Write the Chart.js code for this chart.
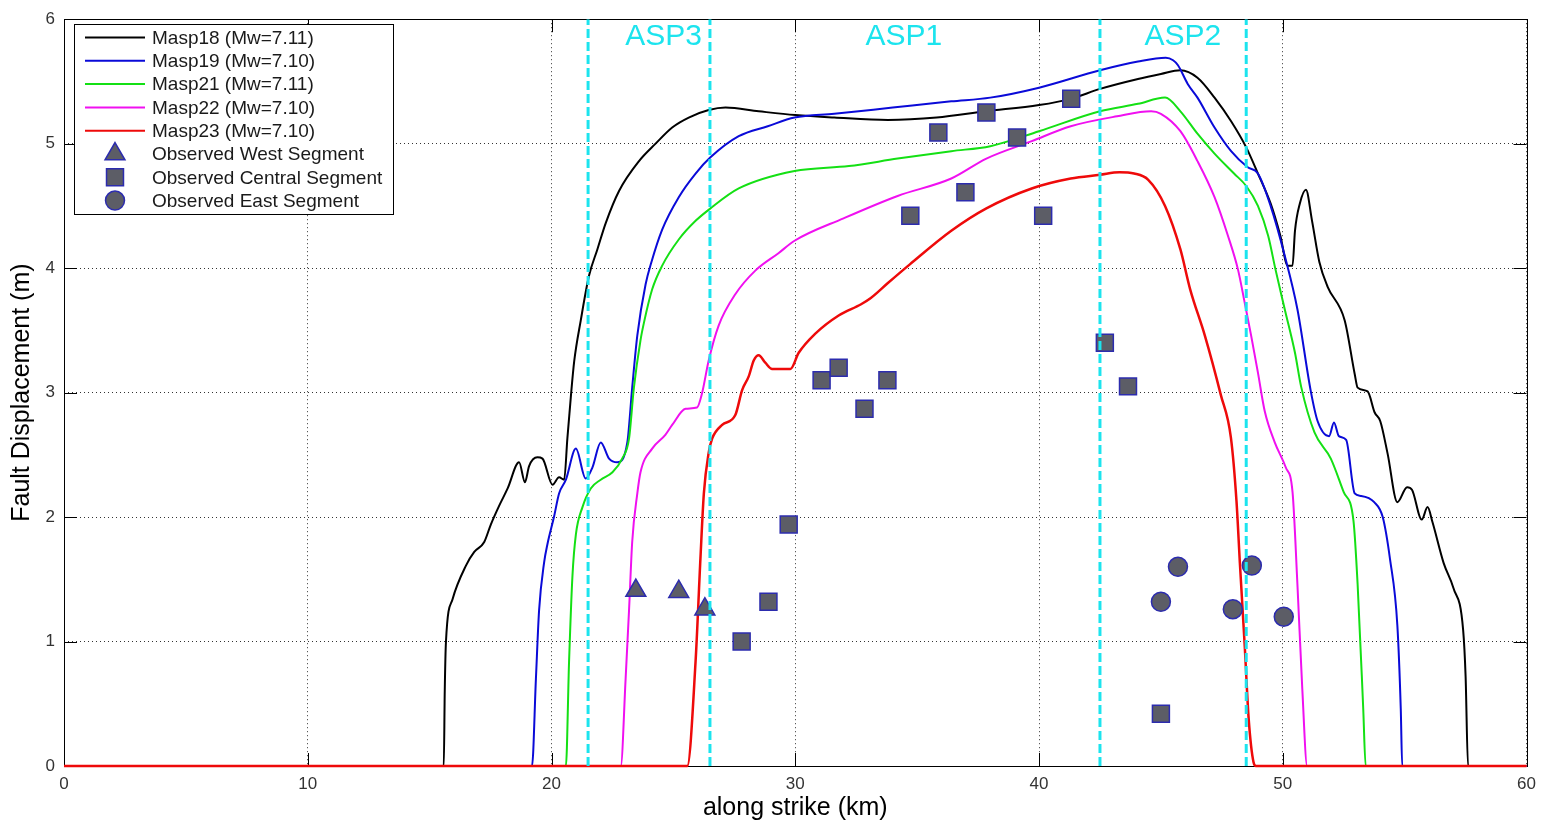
<!DOCTYPE html>
<html>
<head>
<meta charset="utf-8">
<script src="https://cdn.jsdelivr.net/npm/chart.js@4.4.0/dist/chart.umd.min.js"></script>
<style>
  html, body { margin: 0; padding: 0; background: #fff; }
  #wrap { width: 1544px; height: 823px; }
</style>
</head>
<body>
<div id="wrap"><canvas id="chart" width="1544" height="823"></canvas></div>
<script>
// simulated fault displacement along strike (km / m)
const masp18X = [0, 15.58, 15.62, 15.67, 15.94, 16.49, 16.83, 17.24, 17.51, 17.85, 18.2, 18.67, 18.91, 19.08, 19.42, 19.63, 20.04, 20.31, 20.52, 20.65, 20.79, 20.93, 21.2, 21.54, 21.88, 22.22, 22.77, 23.59, 24.27, 24.95, 25.63, 26.45, 27.14, 28.5, 30.0, 31.6, 33.8, 35.8, 37.8, 40.0, 41.3, 42.5, 44.06, 45.0, 45.8, 46.5, 47.2, 47.88, 48.5, 48.98, 49.5, 49.9, 50.2, 50.4, 50.5, 50.7, 50.95, 51.2, 51.5, 51.84, 52.54, 52.95, 53.07, 53.48, 53.77, 54.0, 54.3, 54.7, 55.1, 55.3, 55.7, 55.94, 56.14, 56.6, 57.0, 57.4, 57.5, 57.6, 60];
const masp18Y = [0, 0, 0.6, 1.0, 1.34, 1.61, 1.72, 1.8, 1.94, 2.09, 2.23, 2.44, 2.28, 2.41, 2.48, 2.47, 2.26, 2.32, 2.3, 2.63, 2.96, 3.25, 3.58, 3.94, 4.15, 4.36, 4.62, 4.86, 5.0, 5.13, 5.21, 5.27, 5.29, 5.26, 5.23, 5.21, 5.19, 5.21, 5.26, 5.31, 5.36, 5.44, 5.52, 5.56, 5.59, 5.53, 5.37, 5.18, 4.97, 4.76, 4.52, 4.26, 4.02, 4.02, 4.3, 4.52, 4.63, 4.38, 4.05, 3.85, 3.58, 3.15, 3.04, 3.01, 2.84, 2.77, 2.51, 2.12, 2.24, 2.22, 1.98, 2.08, 1.96, 1.63, 1.43, 1.09, 0.72, 0, 0];

const masp19X = [0, 19.2, 19.36, 19.49, 19.7, 19.83, 20.1, 20.31, 20.59, 21.0, 21.4, 21.68, 22.02, 22.36, 22.7, 23.11, 23.31, 23.52, 23.86, 24.1, 24.54, 25.22, 25.91, 26.52, 27.68, 28.87, 29.97, 31.6, 34.0, 36.4, 38.0, 40.0, 42.5, 44.06, 45.2, 45.5, 45.7, 46.1, 46.5, 47.2, 47.88, 48.56, 48.98, 49.5, 50.08, 50.6, 51.15, 51.43, 51.9, 52.1, 52.3, 52.6, 52.95, 53.2, 53.75, 54.1, 54.4, 54.7, 54.84, 54.9, 60];
const masp19Y = [0, 0, 0.7, 1.25, 1.64, 1.78, 2.0, 2.19, 2.3, 2.55, 2.31, 2.4, 2.6, 2.47, 2.44, 2.6, 3.04, 3.46, 3.87, 4.05, 4.31, 4.57, 4.76, 4.89, 5.06, 5.14, 5.21, 5.24, 5.29, 5.34, 5.37, 5.45, 5.59, 5.66, 5.69, 5.67, 5.63, 5.48, 5.37, 5.13, 4.94, 4.81, 4.76, 4.5, 4.1, 3.67, 3.01, 2.77, 2.65, 2.76, 2.65, 2.62, 2.19, 2.17, 2.12, 2.0, 1.66, 1.13, 0.46, 0, 0];

const masp21X = [0, 20.59, 20.72, 20.86, 21.0, 21.27, 21.61, 22.02, 22.5, 22.9, 23.18, 23.38, 23.65, 23.79, 24.13, 24.54, 25.22, 25.91, 26.52, 27.68, 29.97, 32.2, 34.2, 36.4, 38.0, 40.0, 42.5, 44.06, 45.17, 45.8, 46.5, 47.2, 48.0, 48.5, 48.98, 49.4, 49.7, 50.08, 50.5, 50.75, 51.3, 51.97, 52.5, 52.9, 53.07, 53.3, 53.4, 60];
const masp21Y = [0, 0, 0.84, 1.53, 1.86, 2.08, 2.23, 2.3, 2.36, 2.47, 2.63, 3.04, 3.42, 3.56, 3.83, 4.02, 4.23, 4.38, 4.48, 4.64, 4.78, 4.82, 4.88, 4.94, 4.98, 5.1, 5.26, 5.32, 5.37, 5.26, 5.08, 4.92, 4.76, 4.66, 4.5, 4.26, 3.99, 3.67, 3.32, 3.05, 2.68, 2.47, 2.2, 1.97, 1.46, 0.46, 0, 0];

const masp22X = [0, 22.84, 23.04, 23.18, 23.31, 23.52, 23.65, 24.13, 24.67, 24.95, 25.5, 25.97, 26.17, 26.45, 26.86, 27.54, 28.36, 29.31, 29.97, 31.98, 34.2, 36.4, 37.84, 39.7, 41.3, 43.2, 44.6, 45.0, 45.8, 46.5, 47.2, 47.75, 48.16, 48.44, 48.7, 48.98, 49.26, 49.67, 50.12, 50.4, 50.6, 50.8, 51.0, 60];
const masp22Y = [0, 0, 0.7, 1.25, 1.8, 2.19, 2.36, 2.55, 2.66, 2.74, 2.87, 2.88, 2.99, 3.26, 3.54, 3.79, 3.98, 4.12, 4.22, 4.4, 4.58, 4.72, 4.88, 5.02, 5.14, 5.22, 5.26, 5.24, 5.1, 4.86, 4.57, 4.26, 3.99, 3.72, 3.46, 3.16, 2.85, 2.6, 2.4, 2.2, 1.46, 0.62, 0, 0];

const masp23X = [0, 25.57, 25.91, 26.11, 26.25, 26.45, 26.59, 27.0, 27.54, 27.82, 28.09, 28.3, 28.5, 28.77, 29.05, 29.31, 29.8, 30.14, 30.8, 31.78, 32.7, 33.1, 33.8, 34.7, 36.4, 37.84, 39.7, 41.3, 42.5, 43.3, 43.9, 44.48, 45.17, 45.8, 46.2, 46.8, 47.46, 47.87, 48.1, 48.24, 48.44, 48.6, 48.8, 48.9, 60];
const masp23Y = [0, 0, 0.84, 1.67, 2.19, 2.52, 2.63, 2.74, 2.82, 3.02, 3.13, 3.26, 3.3, 3.24, 3.19, 3.19, 3.19, 3.32, 3.47, 3.62, 3.71, 3.76, 3.88, 4.03, 4.3, 4.48, 4.64, 4.72, 4.75, 4.77, 4.76, 4.71, 4.5, 4.15, 3.83, 3.46, 2.98, 2.64, 2.13, 1.63, 0.96, 0.38, 0.03, 0, 0];

// observed offsets
const westX = [23.46, 25.22, 26.29];
const westY = [1.41, 1.4, 1.26];
const centralX = [27.8, 28.9, 29.73, 31.08, 31.78, 32.84, 33.78, 34.72, 35.87, 36.98, 37.84, 39.1, 40.17, 41.32, 42.7, 43.65, 45.0];
const centralY = [1.0, 1.32, 1.94, 3.1, 3.2, 2.87, 3.1, 4.42, 5.09, 4.61, 5.25, 5.05, 4.42, 5.36, 3.4, 3.05, 0.42];
const eastX = [45.0, 45.7, 47.95, 48.73, 50.04];
const eastY = [1.32, 1.6, 1.26, 1.61, 1.2];

const seriesNames = ['Masp18 (Mw=7.11)', 'Masp19 (Mw=7.10)', 'Masp21 (Mw=7.11)', 'Masp22 (Mw=7.10)', 'Masp23 (Mw=7.10)'];
const seriesColors = ['#000000', '#0a0ad8', '#14e014', '#f010f0', '#ee0a0a'];
const obsNames = ['Observed West Segment', 'Observed Central Segment', 'Observed East Segment'];

// asperity boundaries and names
const aspBounds = [21.5, 26.5, 42.5, 48.5];
const aspNames = ['ASP3', 'ASP1', 'ASP2'];
const aspCentres = [24.6, 34.45, 45.9];

const FONT = "'Liberation Sans', Arial, sans-serif";
const CYAN = '#1ce4ee';
const MARK_FILL = '#5c5d66';
const MARK_EDGE = '#2c2cae';

function pts(xs, ys) {
    return xs.map((x, i) => ({x: x, y: ys[i]}));
}

const curves = [[masp18X, masp18Y], [masp19X, masp19Y], [masp21X, masp21Y], [masp22X, masp22Y], [masp23X, masp23Y]];

const datasets = [];

aspBounds.forEach(b => {
    datasets.push({
        label: 'asp',
        data: [{x: b, y: 0}, {x: b, y: 6}],
        showLine: true,
        borderColor: CYAN,
        borderWidth: 3,
        borderDash: [9, 4],
        pointRadius: 0,
        order: 0
    });
});

const obs = [[westX, westY, 'triangle', 11.5], [centralX, centralY, 'rect', 12], [eastX, eastY, 'circle', 9.5]];
obs.forEach((o, i) => {
    datasets.push({
        label: obsNames[i],
        data: pts(o[0], o[1]),
        pointStyle: o[2],
        pointRadius: o[3],
        backgroundColor: MARK_FILL,
        borderColor: MARK_EDGE,
        borderWidth: 1.5,
        showLine: false,
        order: 1
    });
});

curves.forEach((c, i) => {
    datasets.push({
        label: seriesNames[i],
        data: pts(c[0], c[1]),
        showLine: true,
        borderColor: seriesColors[i],
        borderWidth: i === 4 ? 2.5 : 2,
        pointRadius: 0,
        cubicInterpolationMode: 'monotone',
        clip: false,
        order: 6 - i
    });
});

const matlabLook = {
    id: 'matlabLook',
    beforeDatasetsDraw(chart) {
        const {ctx, chartArea: a, scales: {x, y}} = chart;
        ctx.save();
        ctx.strokeStyle = '#000';
        ctx.lineWidth = 1;
        ctx.beginPath();
        x.ticks.forEach(t => {
            const px = Math.round(x.getPixelForValue(t.value)) + 0.5;
            ctx.moveTo(px, a.bottom); ctx.lineTo(px, a.bottom - 13);
            ctx.moveTo(px, a.top); ctx.lineTo(px, a.top + 13);
        });
        y.ticks.forEach(t => {
            const py = Math.round(y.getPixelForValue(t.value)) + 0.5;
            ctx.moveTo(a.left, py); ctx.lineTo(a.left + 13, py);
            ctx.moveTo(a.right, py); ctx.lineTo(a.right - 13, py);
        });
        ctx.stroke();
        ctx.strokeRect(Math.round(a.left) + 0.5, Math.round(a.top) + 0.5, Math.round(a.right - a.left), Math.round(a.bottom - a.top));
        ctx.restore();
    },
    afterDatasetsDraw(chart) {
        const {ctx, scales: {x, y}} = chart;
        ctx.save();
        // asperity names
        ctx.fillStyle = CYAN;
        ctx.font = '30px ' + FONT;
        ctx.textAlign = 'center';
        ctx.textBaseline = 'middle';
        aspNames.forEach((n, i) => {
            ctx.fillText(n, x.getPixelForValue(aspCentres[i]), y.getPixelForValue(5.86));
        });

        // legend box
        const bx = 74, by = 24, bw = 319, bh = 190, row = 23.3;
        ctx.fillStyle = '#fff';
        ctx.fillRect(bx, by, bw, bh);
        ctx.strokeStyle = '#000';
        ctx.lineWidth = 1;
        ctx.strokeRect(bx + 0.5, by + 0.5, bw, bh);
        ctx.font = '19px ' + FONT;
        ctx.textAlign = 'left';
        ctx.textBaseline = 'middle';
        const labels = seriesNames.concat(obsNames);
        labels.forEach((lab, i) => {
            const ly = by + 13.5 + i * row;
            if (i < seriesNames.length) {
                ctx.strokeStyle = seriesColors[i];
                ctx.lineWidth = 2;
                ctx.beginPath();
                ctx.moveTo(bx + 11, ly);
                ctx.lineTo(bx + 71, ly);
                ctx.stroke();
            } else {
                const o = obs[i - seriesNames.length];
                ctx.fillStyle = MARK_FILL;
                ctx.strokeStyle = MARK_EDGE;
                ctx.lineWidth = 1.5;
                Chart.helpers.drawPoint(ctx, {pointStyle: o[2], radius: o[3], rotation: 0, borderWidth: 1.5}, bx + 41, ly);
            }
            ctx.fillStyle = '#1a1a1a';
            ctx.fillText(lab, bx + 78, ly + 1);
        });
        ctx.restore();
    }
};

new Chart(document.getElementById('chart'), {
    type: 'scatter',
    data: {datasets: datasets},
    options: {
        responsive: false,
        animation: false,
        events: [],
        layout: {padding: {top: 15, right: 15, left: 0, bottom: 0}},
        plugins: {legend: {display: false}, tooltip: {enabled: false}},
        scales: {
            x: {
                type: 'linear',
                min: 0, max: 60,
                ticks: {stepSize: 10, padding: 8, color: '#333', font: {family: FONT, size: 17}},
                grid: {color: 'rgba(0,0,0,0.8)', lineWidth: 1, drawTicks: false},
                border: {display: false, dash: [1, 3]},
                title: {display: true, text: 'along strike (km)', color: '#000', font: {family: FONT, size: 25}, padding: {top: 0, bottom: 0}},
                afterFit(s) { s.height = 57; }
            },
            y: {
                type: 'linear',
                min: 0, max: 6,
                ticks: {stepSize: 1, padding: 9, color: '#333', font: {family: FONT, size: 17}},
                grid: {color: 'rgba(0,0,0,0.8)', lineWidth: 1, drawTicks: false},
                border: {display: false, dash: [1, 3]},
                title: {display: true, text: 'Fault Displacement (m)', color: '#000', font: {family: FONT, size: 25}, padding: {top: 7, bottom: 0}},
                afterFit(s) { s.width = 64; }
            }
        }
    },
    plugins: [matlabLook]
});
</script>
</body>
</html>
